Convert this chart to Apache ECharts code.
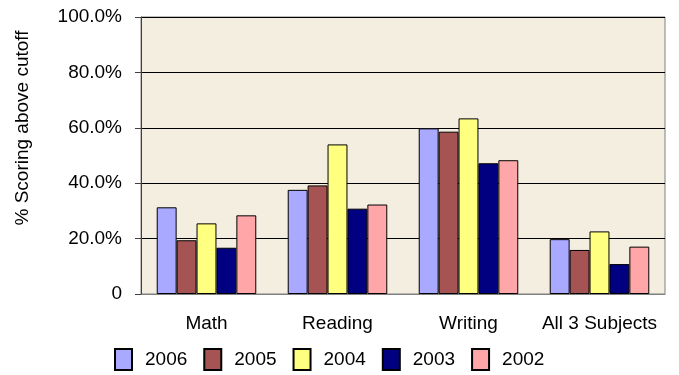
<!DOCTYPE html>
<html>
<head>
<meta charset="utf-8">
<script src="https://cdn.jsdelivr.net/npm/echarts@6/dist/echarts.min.js"></script>
<style>
  html, body { margin: 0; padding: 0; background: #ffffff; }
  #chart { width: 679px; height: 375px; }
</style>
</head>
<body>
<div id="chart"></div>
<script>
// Subject categories on the x axis
const categories = ['Math', 'Reading', 'Writing', 'All 3 Subjects'];

// Share of students scoring above the cutoff, in percent, per year
const years = ['2006', '2005', '2004', '2003', '2002'];
const values2006 = [31.3, 37.6, 59.8, 19.8];
const values2005 = [19.4, 39.2, 58.6, 15.9];
const values2004 = [25.5, 54.0, 63.4, 22.6];
const values2003 = [16.7, 30.8, 47.2, 10.8];
const values2002 = [28.4, 32.3, 48.3, 17.1];

// Y axis tick labels, from 0 up to 100 in steps of 20
const yTickValues = [0, 20, 40, 60, 80, 100];
const yTickLabels = ['0', '20.0%', '40.0%', '60.0%', '80.0%', '100.0%'];

const yearColors = ['#A9A9FF', '#A65353', '#FFFF80', '#000080', '#FFA6A8'];
const yearValues = [values2006, values2005, values2004, values2003, values2002];

const FONT = 'Liberation Sans, Arial, sans-serif';

const chart = echarts.init(document.getElementById('chart'), null, { renderer: 'canvas' });

const series = years.map((year, i) => ({
  name: year,
  type: 'bar',
  data: yearValues[i],
  barGap: '0%',
  barCategoryGap: '24%',
  itemStyle: {
    color: yearColors[i],
    borderColor: '#000000',
    borderWidth: 1
  }
}));

chart.setOption({
  animation: false,
  textStyle: { fontFamily: FONT },
  grid: {
    left: 141,
    right: 14,
    top: 17,
    bottom: 81,
    show: true,
    backgroundColor: '#F4EEE1',
    borderColor: '#808080',
    borderWidth: 1
  },
  legend: {
    left: 114,
    top: 348,
    padding: 0,
    itemWidth: 17,
    itemHeight: 21,
    itemGap: 16,
    icon: 'rect',
    data: years,
    textStyle: {
      fontFamily: FONT,
      fontSize: 19,
      color: '#000000',
      padding: [0, 0, 0, 8]
    }
  },
  graphic: [{
    type: 'text',
    x: 23,
    y: 128,
    rotation: Math.PI / 2,
    style: {
      text: '% Scoring above cutoff',
      font: '19px ' + FONT,
      fill: '#000000',
      textAlign: 'center',
      textVerticalAlign: 'middle'
    }
  }],
  xAxis: {
    type: 'category',
    data: categories,
    axisLine: { lineStyle: { color: '#808080', width: 1 } },
    axisTick: { alignWithLabel: true, length: 6, lineStyle: { color: '#000000' } },
    axisLabel: {
      interval: 0,
      margin: 20,
      fontFamily: FONT,
      fontSize: 19,
      color: '#000000'
    }
  },
  yAxis: {
    type: 'value',
    min: 0,
    max: 100,
    interval: 20,
    axisLine: { show: true, lineStyle: { color: '#404040', width: 1 } },
    axisTick: { show: true, length: 6, lineStyle: { color: '#404040' } },
    splitLine: { lineStyle: { color: '#000000', width: 1 } },
    axisLabel: {
      margin: 19,
      fontFamily: FONT,
      fontSize: 19,
      color: '#000000',
      formatter: (v) => yTickLabels[yTickValues.indexOf(v)]
    }
  },
  series: series
});
</script>
</body>
</html>
